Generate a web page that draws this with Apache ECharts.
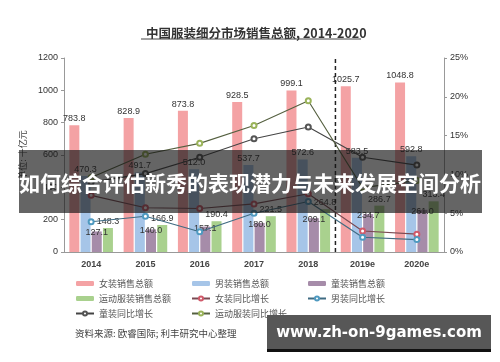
<!DOCTYPE html>
<html><head><meta charset="utf-8">
<script src="https://cdn.jsdelivr.net/npm/echarts@6/dist/echarts.min.js"></script>
<style>html,body{margin:0;padding:0;background:#fff}#c{width:500px;height:362px}</style>
</head><body><div id="c"></div>
<script>
var categories = ['2014','2015','2016','2017','2018','2019e','2020e'];
var womenSales = [783.8, 828.9, 873.8, 928.5, 999.1, 1025.7, 1048.8];
var menSales = [470.3, 491.7, 512.0, 537.7, 572.6, 583.5, 592.8];
var kidsSales = [127.1, 140.0, 157.1, 180.0, 209.1, 234.7, 261.0];
var sportSales = [148.3, 166.9, 190.4, 221.5, 264.8, 286.7, 313.4];
var womenGrowth = [7.3, 5.7, 5.6, 6.2, 7.5, 2.7, 2.3];
var menGrowth = [3.9, 4.6, 2.6, 5.0, 6.5, 1.9, 1.6];
var kidsGrowth = [9.0, 10.1, 12.2, 14.6, 16.1, 12.2, 11.2];
var sportGrowth = [9.6, 12.6, 14.0, 16.3, 19.5, 8.3, 9.2];
var leftTicks = [0, 1200, 200];
var rightTicks = [0, 25, 5];
var forecastSplit = 5;

var chart = echarts.init(document.getElementById('c'), null, {renderer:'canvas'});
var lblFont = {fontFamily:'Liberation Sans, Arial, sans-serif', fontSize:9, color:'#333'};
function barSeries(name, data, color, pos){
  var label = Object.assign({show:true, formatter:function(p){return p.value.toFixed(1);}}, lblFont);
  if(pos==='inside'){ label.position='insideTop'; label.distance=-3; } else { label.position='top'; label.distance=2; }
  return {name:name, type:'bar', data:data, barWidth:10, barGap:'12%', itemStyle:{color:color}, label:label, z:2};
}
function lineSeries(name, data, lineColor, markColor){
  return {name:name, type:'line', yAxisIndex:1, data:data, symbol:'emptyCircle', symbolSize:5,
    lineStyle:{color:lineColor, width:1.1}, itemStyle:{color:markColor, borderColor:markColor, borderWidth:1.1}, z:4};
}
var legendText = {fontFamily:'Noto Sans CJK SC', fontSize:9, color:'#555'};
var legendBase = {orient:'vertical', top:274, itemGap:6, itemWidth:18, itemHeight:5, textStyle:legendText};
var option = {
  animation:false,
  title:{text:'中国服装细分市场销售总额, 2014-2020', left:141, top:22,
    textStyle:{fontFamily:'Noto Sans CJK SC', fontSize:12.5, fontWeight:'bold', color:'#333'}},
  grid:{left:64, right:56, top:58, bottom:110},
  legend:[
    Object.assign({left:70, data:['女装销售总额','运动服装销售总额','童装同比增长']}, legendBase),
    Object.assign({left:186, data:['男装销售总额','女装同比增长','运动服装同比增长']}, legendBase),
    Object.assign({left:302, data:['童装销售总额','男装同比增长']}, legendBase)
  ],
  xAxis:[
    {type:'category', data:categories, axisTick:{show:false},
     axisLine:{lineStyle:{color:'#999'}},
     axisLabel:{fontFamily:'Liberation Sans, Arial', fontSize:9, fontWeight:'bold', color:'#444', margin:8}},
    {type:'value', min:0, max:categories.length, show:false}
  ],
  yAxis:[
    {type:'value', min:leftTicks[0], max:leftTicks[1], interval:leftTicks[2],
     name:'单位: 十亿元', nameLocation:'middle', nameRotate:90, nameGap:30,
     nameTextStyle:{fontFamily:'Noto Sans CJK SC', fontSize:9, color:'#444'},
     axisLine:{show:true, lineStyle:{color:'#999'}}, axisTick:{show:true, length:3, lineStyle:{color:'#999'}},
     splitLine:{show:false},
     axisLabel:{formatter:function(v){return String(v);}, fontFamily:'Liberation Sans, Arial', fontSize:9, color:'#333', margin:6}},
    {type:'value', min:rightTicks[0], max:rightTicks[1], interval:rightTicks[2], position:'right',
     axisLine:{show:true, lineStyle:{color:'#999'}}, axisTick:{show:true, length:3, lineStyle:{color:'#999'}},
     splitLine:{show:false},
     axisLabel:{formatter:'{value}%', fontFamily:'Liberation Sans, Arial', fontSize:9, color:'#333', margin:6}}
  ],
  series:[
    barSeries('女装销售总额', womenSales, '#f4a2a4', 'top'),
    barSeries('男装销售总额', menSales, '#a6c5e8', 'top'),
    barSeries('童装销售总额', kidsSales, '#a68ca9', 'inside'),
    barSeries('运动服装销售总额', sportSales, '#a9d18e', 'top'),
    lineSeries('女装同比增长', womenGrowth, '#7a4a52', '#d05a6a'),
    lineSeries('男装同比增长', menGrowth, '#3f6b82', '#4f9ac0'),
    lineSeries('童装同比增长', kidsGrowth, '#444444', '#555555'),
    lineSeries('运动服装同比增长', sportGrowth, '#556040', '#9ab35a'),
    {name:'split', type:'line', xAxisIndex:1, yAxisIndex:0, symbol:'none', silent:true,
     data:[[forecastSplit, leftTicks[0]], [forecastSplit, leftTicks[1]]],
     lineStyle:{color:'#222', width:1.5, type:[4,3]}, z:3}
  ],
  graphic:[
    {type:'line', shape:{x1:141, y1:39, x2:361, y2:39}, style:{stroke:'#444', lineWidth:1}, z:10},
    {type:'text', left:75, top:329, style:{text:'资料来源: 欧睿国际; 利丰研究中心整理', font:'9.5px "Noto Sans CJK SC"', fill:'#444'}, z:10},
    {type:'rect', shape:{x:19, y:150, width:463, height:63}, style:{fill:'rgba(22,22,22,0.66)'}, z:100},
    {type:'text', x:250, y:183, style:{text:'如何综合评估新秀的表现潜力与未来发展空间分析', font:'bold 21px "Noto Sans CJK SC"', fill:'#fff', textAlign:'center', textVerticalAlign:'middle'}, z:101},
    {type:'rect', shape:{x:267, y:315, width:224, height:35}, style:{fill:'#575757'}, z:100},
    {type:'rect', shape:{x:267, y:349, width:224, height:3}, style:{fill:'#111'}, z:100},
    {type:'text', x:379, y:333, style:{text:'www.zh-on-9games.com', font:'bold 15px "DejaVu Sans"', fill:'#fff', textAlign:'center', textVerticalAlign:'middle'}, z:101}
  ]
};
chart.setOption(option);
</script></body></html>
